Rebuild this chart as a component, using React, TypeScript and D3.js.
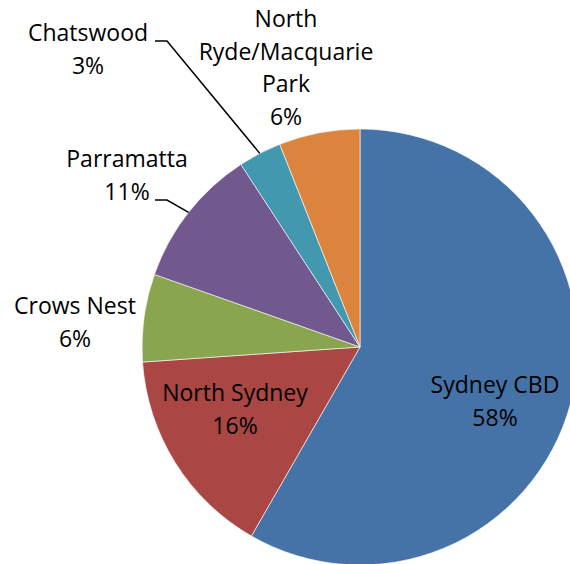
import React from "react";
import * as d3 from "d3";

const categories = ["Sydney CBD", "North Sydney", "Crows Nest", "Parramatta", "Chatswood", "North Ryde/Macquarie Park"];
const shares = [58.3, 15.6, 6.5, 10.4, 3.2, 6.0];
const pctLabels = ["58%", "16%", "6%", "11%", "3%", "6%"];
const colors = ["#4572A7", "#AA4643", "#89A54E", "#71588F", "#4198AF", "#DB843D"];

// label placement (text lines + anchor point), leader lines for the outside ones
const labelLines = [
  ["Sydney CBD"],
  ["North Sydney"],
  ["Crows Nest"],
  ["Parramatta"],
  ["Chatswood"],
  ["North", "Ryde/Macquarie", "Park"],
];
const labelPos: [number, number][] = [
  [495, 393],
  [235, 401],
  [75, 314],
  [127, 167],
  [88, 41],
  [286, 27],
];
const leaderFrom: ([number, number] | null)[] = [null, null, null, [155, 200], [155, 41], null];

interface Slice {
  name: string;
  value: number;
  idx: number;
}

const W = 570;
const H = 564;
const cx = 360;
const cy = 347;
const R = 218;
const lineH = 32.5;

export default function App() {
  const data: Slice[] = categories.map((name, idx) => ({ name, value: shares[idx], idx }));
  const pie = d3.pie<Slice>().value((d) => d.value).sort(null);
  const arcs = pie(data);
  const arc = d3.arc<d3.PieArcDatum<Slice>>().innerRadius(0).outerRadius(R);

  return (
    <svg width={W} height={H} style={{ position: "absolute", left: 0, top: 0, background: "#fff" }}>
      <g transform={`translate(${cx},${cy})`}>
        {arcs.map((a, i) => (
          <path key={i} d={arc(a) || ""} fill={colors[i]} stroke="#fff" strokeWidth={0.6} />
        ))}
      </g>
      {arcs.map((a, i) => {
        const from = leaderFrom[i];
        if (!from) return null;
        const mid = (a.startAngle + a.endAngle) / 2;
        const ex = cx + R * Math.sin(mid);
        const ey = cy - R * Math.cos(mid);
        return (
          <polyline
            key={"l" + i}
            points={`${from[0]},${from[1]} ${from[0] + 12},${from[1]} ${ex},${ey}`}
            fill="none"
            stroke="#000"
            strokeWidth={1.5}
          />
        );
      })}
      {arcs.map((a, i) => {
        const [x, y] = labelPos[i];
        const lines = [...labelLines[i], pctLabels[i]];
        return (
          <text
            key={"t" + i}
            x={x}
            y={y}
            textAnchor="middle"
            fontFamily="'Open Sans', sans-serif"
            fontSize={23}
            fill="#000"
          >
            {lines.map((t, j) => (
              <tspan key={j} x={x} y={y + j * lineH}>
                {t}
              </tspan>
            ))}
          </text>
        );
      })}
    </svg>
  );
}
